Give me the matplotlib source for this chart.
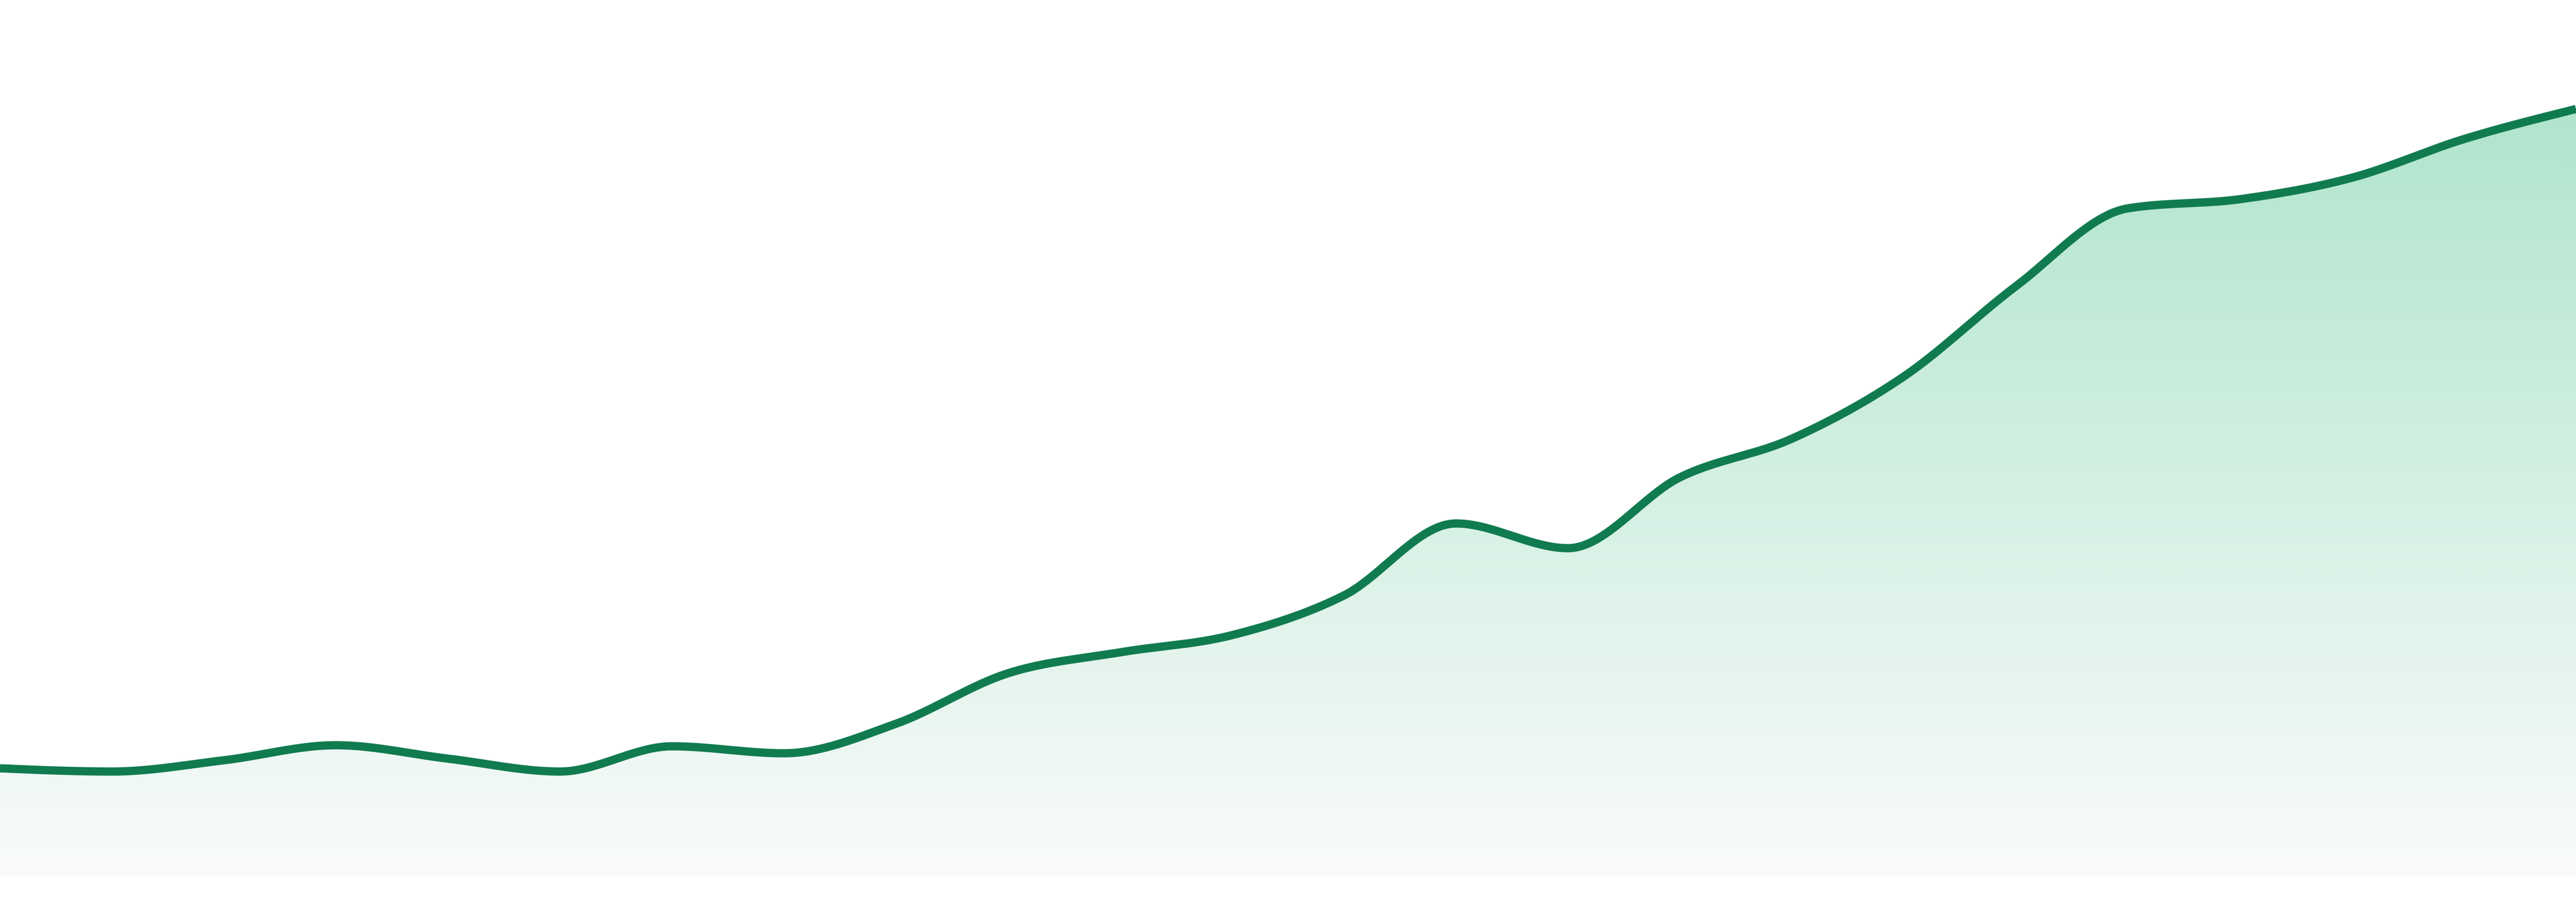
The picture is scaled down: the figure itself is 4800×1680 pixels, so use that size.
import numpy as np
import matplotlib
matplotlib.use("Agg")
import matplotlib.pyplot as plt
from matplotlib.colors import LinearSegmentedColormap
from matplotlib.patches import Polygon

# ---- data ----
periods = list(range(24))
values = [20.1, 19.5, 21.6, 24.4, 21.9, 19.5, 24.2, 22.9, 28.4, 37.8, 41.7, 44.9,
          52.3, 65.7, 61.1, 74.3, 81.5, 93.1, 109.9, 124.4, 126.1, 130.1, 137.3, 142.9]

LINE_COLOR = "#117b50"
FILL_TOP = "#b0e5cd"
FILL_BOTTOM = "#f9fbfa"


def monotone_x(x, y, n=40):
    """d3 curveMonotoneX equivalent (Hermite segments)."""
    x = np.asarray(x, float)
    y = np.asarray(y, float)
    m = len(x)
    h = np.diff(x)
    s = np.diff(y) / h
    t = np.zeros(m)
    for i in range(1, m - 1):
        s0, s1 = s[i - 1], s[i]
        p = (s0 * h[i] + s1 * h[i - 1]) / (h[i - 1] + h[i])
        t[i] = (np.sign(s0) + np.sign(s1)) * min(abs(s0), abs(s1), 0.5 * abs(p))
    t[0] = (3 * s[0] - t[1]) / 2
    t[-1] = (3 * s[-1] - t[-2]) / 2
    xs, ys = [], []
    for i in range(m - 1):
        u = np.linspace(0, 1, n, endpoint=(i == m - 2))
        dx = h[i]
        p0, p3 = y[i], y[i + 1]
        p1 = p0 + t[i] * dx / 3
        p2 = p3 - t[i + 1] * dx / 3
        xs.append(x[i] + dx * u)
        ys.append((1 - u) ** 3 * p0 + 3 * (1 - u) ** 2 * u * p1 + 3 * (1 - u) * u ** 2 * p2 + u ** 3 * p3)
    return np.concatenate(xs), np.concatenate(ys)


fig = plt.figure(figsize=(16, 5.6), dpi=300)
ax = fig.add_axes([0, 0, 1, 1])
ax.set_xlim(periods[0], periods[-1])
ax.set_ylim(-4.8, 163.2)
ax.axis("off")

cx, cy = monotone_x(periods, values)

# gradient fill under the curve
top = max(values)
cmap = LinearSegmentedColormap.from_list("g", [FILL_BOTTOM, FILL_TOP])
grad = np.linspace(0, 1, 512).reshape(-1, 1)
im = ax.imshow(grad, cmap=cmap, aspect="auto", origin="lower",
               extent=[periods[0], periods[-1], 0, top], zorder=1)
poly = Polygon(np.column_stack([np.r_[cx, cx[-1], cx[0]], np.r_[cy, 0, 0]]),
               closed=True, facecolor="none", edgecolor="none")
ax.add_patch(poly)
im.set_clip_path(poly)

ax.plot(cx, cy, color=LINE_COLOR, lw=3.7, solid_capstyle="butt", zorder=3)

fig.savefig("out.png", dpi=300, facecolor="white")
